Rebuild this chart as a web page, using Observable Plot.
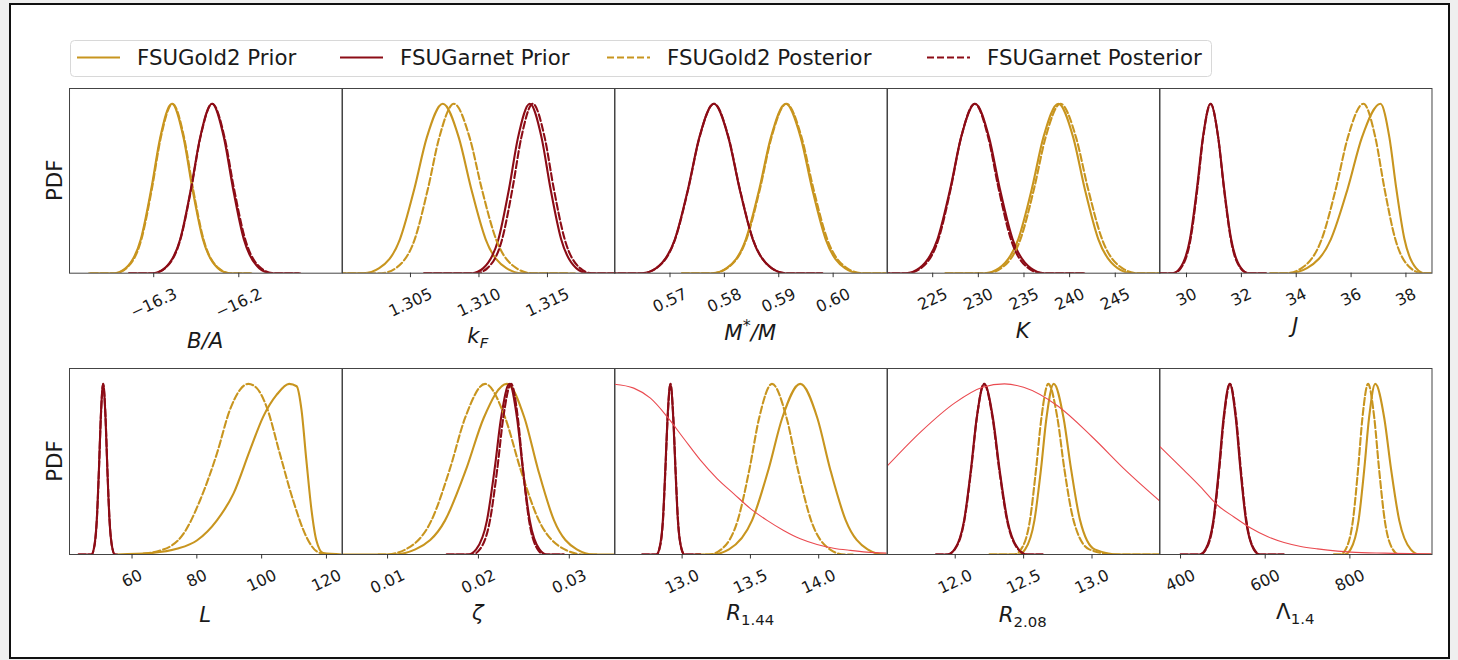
<!DOCTYPE html>
<html><head><meta charset="utf-8">
<script src="https://cdn.jsdelivr.net/npm/d3@7"></script>
<script src="https://cdn.jsdelivr.net/npm/@observablehq/plot@0.6"></script>
<style>
html,body{margin:0;padding:0;}
body{width:1458px;height:660px;background:#efefef;position:relative;overflow:hidden;font-family:"DejaVu Sans",sans-serif;}
#sheet{position:absolute;left:9px;top:3px;width:1437px;height:652px;background:#fff;border:2px solid #111;}
.panel{position:absolute;}
.panel svg{overflow:visible;display:block;}
#overlay{position:absolute;left:0;top:0;pointer-events:none;}
</style></head><body>
<div id="sheet"></div>
<div id="root"></div>
<svg id="overlay" width="1458" height="660"></svg>
<script>
// ---------------- DATA (normalised PDFs) ----------------
const LEVELS = [0, 0, 0.03, 0.2, 0.5, 0.8, 1, 0.8, 0.5, 0.2, 0.03, 0, 0];

// B/A
const baTicks = [-16.3, -16.2];
const baTickLabels = ["−16.3", "−16.2"];
const baGoldPrior  = [-16.376, -16.346, -16.3328, -16.3152, -16.3028, -16.2924, -16.2787, -16.265, -16.2546, -16.2422, -16.2246, -16.2114, -16.187];
const baGoldPost   = [-16.374, -16.3453, -16.3321, -16.3145, -16.3021, -16.2917, -16.278, -16.2643, -16.2539, -16.2415, -16.2239, -16.2107, -16.185];
const baGarnetPrior= [-16.329, -16.3005, -16.2869, -16.2689, -16.2562, -16.2455, -16.2315, -16.2175, -16.2068, -16.1941, -16.1761, -16.1625, -16.130];
const baGarnetPost = [-16.329, -16.3002, -16.2866, -16.2686, -16.2559, -16.2452, -16.2312, -16.2167, -16.2057, -16.1925, -16.174, -16.1599, -16.128];

// k_F
const kfTicks = [1.305, 1.310, 1.315];
const kfTickLabels = ["1.305", "1.310", "1.315"];
const kfGoldPrior  = [1.2990, 1.30158, 1.30272, 1.30423, 1.30529, 1.30619, 1.30736, 1.30853, 1.30943, 1.31049, 1.312, 1.31314, 1.3165];
const kfGoldPost   = [1.2990, 1.30289, 1.30393, 1.30531, 1.30628, 1.3071, 1.30817, 1.30932, 1.3102, 1.31125, 1.31273, 1.31385, 1.3170];
const kfGarnetPrior= [1.3060, 1.30949, 1.31032, 1.31142, 1.3122, 1.31285, 1.31371, 1.31457, 1.31522, 1.316, 1.3171, 1.31793, 1.3205];
const kfGarnetPost = [1.3060, 1.3098, 1.31062, 1.31169, 1.31245, 1.31309, 1.31393, 1.3148, 1.31546, 1.31626, 1.31738, 1.31822, 1.3205];

// M*/M
const msTicks = [0.57, 0.58, 0.59, 0.60];
const msTickLabels = ["0.57", "0.58", "0.59", "0.60"];
const msGoldPrior  = [0.5722, 0.57776, 0.58042, 0.58395, 0.58645, 0.58854, 0.59129, 0.59404, 0.59613, 0.59863, 0.60216, 0.60482, 0.6110];
const msGoldPost   = [0.5722, 0.57787, 0.58053, 0.58406, 0.58656, 0.58865, 0.5914, 0.59421, 0.59636, 0.59892, 0.60253, 0.60526, 0.6110];
const msGarnetPrior= [0.555, 0.56486, 0.56746, 0.5709, 0.57334, 0.57538, 0.57806, 0.58074, 0.58278, 0.58522, 0.58866, 0.59126, 0.598];
const msGarnetPost = [0.555, 0.5649, 0.5675, 0.57094, 0.57338, 0.57542, 0.5781, 0.58078, 0.58282, 0.58526, 0.5887, 0.5913, 0.598];

// K
const kTicks = [225, 230, 235, 240, 245];
const kTickLabels = ["225", "230", "235", "240", "245"];
const kGoldPrior   = [226.4, 230.67, 232.27, 234.37, 235.87, 237.12, 238.76, 240.4, 241.65, 243.15, 245.25, 246.85, 250.5];
const kGoldPost    = [226.4, 230.91, 232.51, 234.61, 236.11, 237.36, 239.0, 240.71, 242.01, 243.56, 245.76, 247.42, 250.5];
const kGarnetPrior = [219.5, 222.05, 223.54, 225.52, 226.93, 228.1, 229.64, 231.18, 232.35, 233.76, 235.74, 237.23, 241.6];
const kGarnetPost  = [219.5, 222.27, 223.72, 225.63, 226.98, 228.11, 229.6, 231.09, 232.22, 233.57, 235.48, 236.93, 241.6];

// J
const jTicks = [30, 32, 34, 36, 38];
const jTickLabels = ["30", "32", "34", "36", "38"];
const jGoldPrior   = [33.05, 33.737, 34.393, 35.262, 35.878, 36.393, 37.07, 37.398, 37.648, 37.947, 38.369, 38.687, 39.0];
const jGoldPost    = [33.05, 33.645, 34.197, 34.928, 35.447, 35.88, 36.45, 36.886, 37.217, 37.614, 38.173, 38.595, 39.0];
const jGarnetPrior = [29.0, 29.49, 29.763, 30.124, 30.38, 30.595, 30.876, 31.157, 31.372, 31.628, 31.989, 32.262, 32.9];
const jGarnetPost  = [29.0, 29.527, 29.793, 30.146, 30.396, 30.605, 30.88, 31.155, 31.364, 31.614, 31.967, 32.233, 32.9];

// L
const lTicks = [60, 80, 100, 120];
const lTickLabels = ["60", "80", "100", "120"];
const lGoldPriorX = [55.4, 65.6, 73.8, 80.0, 86.2, 91.3, 96.4, 100.5, 104.6, 108.5, 110.8, 112.3, 113.8, 115.4, 116.9, 119.0, 124.8];
const lGoldPriorY = [0, 0.008, 0.033, 0.082, 0.2, 0.357, 0.612, 0.808, 0.935, 1, 0.986, 0.847, 0.553, 0.259, 0.082, 0.008, 0];
const lGoldPostX  = [60.5, 68.7, 75.9, 81.0, 86.2, 90.2, 93.3, 95.9, 98.5, 101.5, 105.6, 109.7, 113.8, 116.9, 120.0];
const lGoldPostY  = [0, 0.0235, 0.122, 0.318, 0.592, 0.847, 0.965, 1, 0.975, 0.867, 0.592, 0.318, 0.104, 0.0196, 0];
const lGarnetPrior = [43.5, 47.45, 48.165, 49.111, 49.782, 50.343, 51.08, 51.817, 52.378, 53.049, 53.995, 54.71, 55.4];
const lGarnetPost  = [43.5, 47.47, 48.185, 49.131, 49.802, 50.363, 51.1, 51.837, 52.398, 53.069, 54.015, 54.73, 55.4];

// zeta
const zTicks = [0.01, 0.02, 0.03];
const zTickLabels = ["0.01", "0.02", "0.03"];
const zGoldPrior   = [0.0050, 0.01059, 0.01306, 0.01633, 0.01865, 0.02058, 0.02313, 0.02507, 0.02655, 0.02832, 0.03082, 0.0327, 0.0351];
const zGoldPost    = [0.0090, 0.00985, 0.01199, 0.01483, 0.01685, 0.01853, 0.02074, 0.02295, 0.02463, 0.02665, 0.02949, 0.03163, 0.0330];
const zGarnetPrior = [0.0165, 0.01886, 0.01975, 0.02094, 0.02178, 0.02249, 0.02341, 0.02425, 0.02489, 0.02565, 0.02672, 0.02754, 0.0294];
const zGarnetPost  = [0.0165, 0.01931, 0.02015, 0.02127, 0.02207, 0.02273, 0.0236, 0.02434, 0.0249, 0.02557, 0.02652, 0.02723, 0.0294];

// R_1.44
const r144Ticks = [13.0, 13.5, 14.0];
const r144TickLabels = ["13.0", "13.5", "14.0"];
const r144GoldPrior   = [13.156, 13.215, 13.343, 13.512, 13.633, 13.733, 13.865, 13.99, 14.084, 14.198, 14.358, 14.479, 14.5];
const r144GoldPost    = [13.1, 13.196, 13.287, 13.407, 13.493, 13.564, 13.658, 13.765, 13.847, 13.944, 14.082, 14.186, 14.25];
const r144GarnetPrior = [12.707, 12.812, 12.832, 12.859, 12.877, 12.893, 12.914, 12.935, 12.951, 12.969, 12.996, 13.016, 13.134];
const r144GarnetPost  = [12.707, 12.813, 12.833, 12.86, 12.878, 12.894, 12.915, 12.936, 12.952, 12.97, 12.997, 13.017, 13.134];
const r144EosX = [12.505, 12.646, 12.768, 12.890, 13.012, 13.134, 13.256, 13.377, 13.5, 13.622, 13.743, 13.865, 13.988, 14.109, 14.231, 14.353, 14.5];
const r144EosY = [0.998, 0.975, 0.916, 0.808, 0.680, 0.553, 0.445, 0.357, 0.269, 0.200, 0.141, 0.092, 0.059, 0.037, 0.024, 0.014, 0.008];

// R_2.08
const r208Ticks = [12.0, 12.5, 13.0];
const r208TickLabels = ["12.0", "12.5", "13.0"];
const r208GoldPrior   = [12.25, 12.459, 12.511, 12.579, 12.627, 12.667, 12.72, 12.792, 12.847, 12.913, 13.02, 13.2, 13.5];
const r208GoldPost    = [12.25, 12.432, 12.481, 12.546, 12.591, 12.63, 12.68, 12.747, 12.798, 12.865, 12.98, 13.17, 13.5];
const r208GarnetPrior = [11.859, 11.941, 11.995, 12.065, 12.115, 12.157, 12.212, 12.276, 12.324, 12.382, 12.464, 12.526, 12.64];
const r208GarnetPost  = [11.859, 11.943, 11.997, 12.067, 12.117, 12.158, 12.21, 12.273, 12.321, 12.379, 12.461, 12.523, 12.64];
const r208EosX = [11.505, 11.75, 12.0, 12.2, 12.36, 12.5, 12.75, 13.0, 13.25, 13.5];
const r208EosY = [0.52, 0.72, 0.89, 0.98, 1.0, 0.98, 0.87, 0.69, 0.49, 0.31];

// Lambda_1.4
const lamTicks = [400, 600, 800];
const lamTickLabels = ["400", "600", "800"];
const lamGoldPrior   = [762, 787.4, 801.7, 820.6, 834, 845.3, 860, 881.2, 897.3, 916.6, 943.7, 964.3, 994];
const lamGoldPost    = [762, 777, 790, 807.2, 819.4, 829.6, 843, 857.7, 869, 882.4, 901.3, 915.6, 944];
const lamGarnetPrior = [400, 445, 459, 477.5, 490.6, 501.6, 516, 530.4, 541.4, 554.5, 573, 587, 644];
const lamGarnetPost  = [400, 446, 460, 478.5, 491.6, 502.6, 517, 531.4, 542.4, 555.5, 574, 588, 644];
const lamEosX = [350, 407.9, 447.3, 486.8, 526.2, 565.7, 605.1, 644.5, 684, 723.5, 770.9, 802.4, 881.2, 994];
const lamEosY = [0.635, 0.494, 0.396, 0.29, 0.22, 0.155, 0.105, 0.07, 0.047, 0.033, 0.02, 0.014, 0.008, 0.004];

const legendLabels = ["FSUGold2 Prior", "FSUGarnet Prior", "FSUGold2 Posterior", "FSUGarnet Posterior"];
const legendKinds = ["goldPrior", "garnetPrior", "goldPost", "garnetPost"];

// ---------------- PANEL TABLE ----------------
function four(gp, ga, gpo, gao) {
  return [
    {kind: "goldPrior", x: gp, y: LEVELS},
    {kind: "garnetPrior", x: ga, y: LEVELS},
    {kind: "goldPost", x: gpo, y: LEVELS},
    {kind: "garnetPost", x: gao, y: LEVELS}
  ];
}
const panels = [
  {domain: [-16.399, -16.0787], ticks: baTicks, labels: baTickLabels, title: [["B/A", "i"]],
   series: four(baGoldPrior, baGarnetPrior, baGoldPost, baGarnetPost)},
  {domain: [1.30004, 1.31993], ticks: kfTicks, labels: kfTickLabels, title: [["k", "i"], ["F", "isub"]],
   series: four(kfGoldPrior, kfGarnetPrior, kfGoldPost, kfGarnetPost)},
  {domain: [0.5598, 0.6099], ticks: msTicks, labels: msTickLabels, title: [["M", "i"], ["*", "sup"], ["/M", "i"]],
   series: four(msGoldPrior, msGarnetPrior, msGoldPost, msGarnetPost)},
  {domain: [220.05, 249.9], ticks: kTicks, labels: kTickLabels, title: [["K", "i"]],
   series: four(kGoldPrior, kGarnetPrior, kGoldPost, kGarnetPost)},
  {domain: [29.015, 38.95], ticks: jTicks, labels: jTickLabels, title: [["J", "i"]],
   series: four(jGoldPrior, jGarnetPrior, jGoldPost, jGarnetPost)},
  {domain: [40.7, 124.8], ticks: lTicks, labels: lTickLabels, title: [["L", "i"]],
   series: [
     {kind: "goldPrior", x: lGoldPriorX, y: lGoldPriorY},
     {kind: "garnetPrior", x: lGarnetPrior, y: LEVELS},
     {kind: "goldPost", x: lGoldPostX, y: lGoldPostY},
     {kind: "garnetPost", x: lGarnetPost, y: LEVELS}]},
  {domain: [0.00504, 0.03503], ticks: zTicks, labels: zTickLabels, title: [["ζ", "i"]],
   series: four(zGoldPrior, zGarnetPrior, zGoldPost, zGarnetPost)},
  {domain: [12.505, 14.5], ticks: r144Ticks, labels: r144TickLabels, title: [["R", "i"], ["1.44", "sub"]],
   series: [...four(r144GoldPrior, r144GarnetPrior, r144GoldPost, r144GarnetPost), {kind: "eos", x: r144EosX, y: r144EosY}]},
  {domain: [11.505, 13.497], ticks: r208Ticks, labels: r208TickLabels, title: [["R", "i"], ["2.08", "sub"]],
   series: [...four(r208GoldPrior, r208GarnetPrior, r208GoldPost, r208GarnetPost), {kind: "eos", x: r208EosX, y: r208EosY}]},
  {domain: [350.3, 994], ticks: lamTicks, labels: lamTickLabels, title: [["Λ", ""], ["1.4", "sub"]],
   series: [...four(lamGoldPrior, lamGarnetPrior, lamGoldPost, lamGarnetPost), {kind: "eos", x: lamEosX, y: lamEosY}]}
];

// ---------------- STYLE / LAYOUT ----------------
const GOLD = "#c8951f", GARNET = "#8c0c16", EOS = "#ea4a50", INK = "#1a1a1a";
const FONT = "DejaVu Sans";
const COLS = [69, 341.5, 614, 886.5, 1159], PW = 272.5;
const ROWS = [{top: 88, h: 184.7, labelY: [347.5, 343, 340, 338, 333], pdfY: 180.3},
              {top: 368, h: 186, labelY: [621.5, 620, 620, 622, 619], pdfY: 461}];
const YMAX = 1.09;
const kindStyle = {
  goldPrior:   {stroke: GOLD, strokeWidth: 2.1},
  garnetPrior: {stroke: GARNET, strokeWidth: 2.1},
  goldPost:    {stroke: GOLD, strokeWidth: 2.1, strokeDasharray: "7,3"},
  garnetPost:  {stroke: GARNET, strokeWidth: 2.1, strokeDasharray: "7,3"},
  eos:         {stroke: EOS, strokeWidth: 1.1}
};
const TICK_FS = 16, LABEL_FS = 21.3, TICK_ROT = -25;
const ctx = document.createElement("canvas").getContext("2d");
ctx.font = `${TICK_FS}px "${FONT}"`;

const root = document.getElementById("root");
panels.forEach((p, i) => {
  const row = ROWS[Math.floor(i / 5)], col = i % 5;
  const marks = [];
  for (const s of p.series) {
    const rows = s.x.map((x, j) => ({x, y: s.y[j]}));
    marks.push(Plot.line(rows, {x: "x", y: "y", curve: "monotone-x", clip: true, ...kindStyle[s.kind]}));
  }
  marks.push(Plot.frame({stroke: "#444", strokeWidth: 1}));
  marks.push(Plot.axisX(p.ticks, {tickSize: 4.5, tickFormat: () => "", stroke: "#333", label: null}));
  p.ticks.forEach((t, k) => {
    const lab = p.labels[k];
    const w = ctx.measureText(lab).width;
    marks.push(Plot.text([t], {x: (d) => d, text: () => lab, frameAnchor: "bottom", rotate: TICK_ROT,
      textAnchor: "middle", lineAnchor: "middle", dy: 19.8 + 0.211 * w, fontSize: TICK_FS, fill: INK}));
  });
  const chart = Plot.plot({
    width: PW, height: row.h, margin: 0,
    x: {domain: p.domain, axis: null},
    y: {domain: [0, YMAX], axis: null},
    style: {overflow: "visible", background: "transparent", fontFamily: FONT},
    marks
  });
  const div = document.createElement("div");
  div.className = "panel";
  div.style.left = COLS[col] + "px";
  div.style.top = row.top + "px";
  div.appendChild(chart);
  root.appendChild(div);
});

// ---------------- OVERLAY: legend, axis titles ----------------
const ov = d3.select("#overlay").style("font-family", FONT);
ov.append("rect").attr("x", 70.5).attr("y", 40.5).attr("width", 1141).attr("height", 36).attr("rx", 4)
  .attr("fill", "#fff").attr("stroke", "#d8d8d8");
const legX = [77, 340, 607, 927];
legendLabels.forEach((lab, k) => {
  const st = kindStyle[legendKinds[k]];
  ov.append("line").attr("x1", legX[k]).attr("x2", legX[k] + 43).attr("y1", 57.5).attr("y2", 57.5)
    .attr("stroke", st.stroke).attr("stroke-width", st.strokeWidth).attr("stroke-dasharray", st.strokeDasharray || null);
  ov.append("text").attr("x", legX[k] + 60).attr("y", 65).attr("font-size", LABEL_FS).attr("fill", INK).text(lab);
});

panels.forEach((p, i) => {
  const row = ROWS[Math.floor(i / 5)], col = i % 5;
  const t = ov.append("text").attr("x", COLS[col] + PW / 2).attr("y", row.labelY[col])
    .attr("text-anchor", "middle").attr("font-size", LABEL_FS).attr("fill", INK);
  let shift = 0;
  p.title.forEach(([str, mode]) => {
    const ts = t.append("tspan").text(str);
    if (mode.includes("i")) ts.attr("font-style", "italic");
    let target = 0;
    if (mode.includes("sub")) { ts.attr("font-size", LABEL_FS * 0.7); target = 5; }
    if (mode.includes("sup")) { ts.attr("font-size", LABEL_FS * 0.75); target = -9; }
    if (target !== shift) { ts.attr("dy", target - shift); shift = target; }
  });
});
ROWS.forEach((row) => {
  ov.append("text").attr("transform", `translate(62,${row.pdfY}) rotate(-90)`).attr("text-anchor", "middle")
    .attr("font-size", LABEL_FS).attr("fill", INK).text("PDF");
});
</script></body></html>
